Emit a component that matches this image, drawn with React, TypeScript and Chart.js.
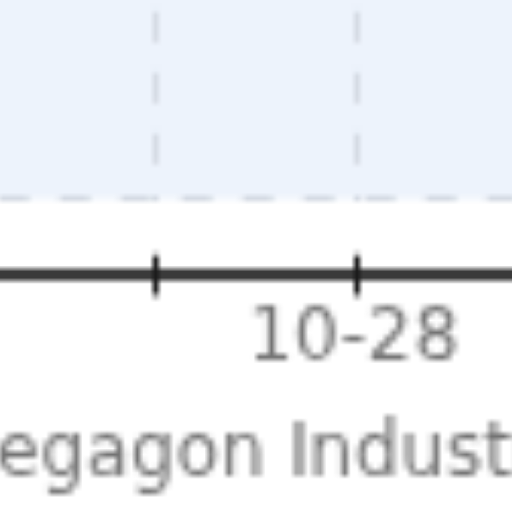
import React, { useEffect, useRef } from "react";
import { Chart, registerables } from "chart.js";

Chart.register(...registerables);

// ---- data ----
const DATES = ["10-23", "10-24", "10-25", "10-26", "10-27", "10-28", "10-29", "10-30", "10-31", "11-01"];
const SHIPMENTS = [62, 58, 71, 66, 74, 69, 80, 77, 85, 82];
const Y_MIN = 0;
const Y_MAX = 100;
const Y_STEP = 25;
const LABEL_EVERY = 3;
const LABEL_PHASE = 2;
const TITLE_LINES = ["Omegagon Industries", "made parts a minute (med.)"];

// ---- style / view ----
const FONT = "DejaVu Sans";
const PLOT_BG = "#EDF3FC";
const GRID = "#d5dbe4";
const TEXT = "#747474";
const AXIS_GAP = 12.4;
const ZOOM = 6.1;
const VIEW_X = 150;
const VIEW_Y = 150;
const CW = 360;
const CH = 254;

const offsetAxis = {
  id: "offsetAxis",
  beforeDraw(chart: any) {
    const { ctx, chartArea } = chart;
    ctx.save();
    ctx.fillStyle = PLOT_BG;
    ctx.fillRect(chartArea.left, chartArea.top, chartArea.right - chartArea.left, chartArea.bottom - chartArea.top);
    ctx.restore();
  },
  afterDraw(chart: any) {
    const { ctx, chartArea } = chart;
    const xs = chart.scales.x;
    const y = chartArea.bottom + AXIS_GAP;
    ctx.save();
    ctx.strokeStyle = "#3a3a3a";
    ctx.lineWidth = 2;
    ctx.beginPath();
    ctx.moveTo(chartArea.left, y);
    ctx.lineTo(chartArea.right, y);
    ctx.stroke();
    ctx.strokeStyle = "#1a1a1a";
    ctx.lineWidth = 1;
    xs.ticks.forEach((_: any, i: number) => {
      const px = Math.round(xs.getPixelForTick(i) - 0.5) + 0.5;
      ctx.beginPath();
      ctx.moveTo(px, y - 3.2);
      ctx.lineTo(px, y + 3.4);
      ctx.stroke();
    });
    ctx.restore();
  },
};

export default function App() {
  const ref = useRef<HTMLCanvasElement | null>(null);

  useEffect(() => {
    if (!ref.current) return;
    const chart = new Chart(ref.current, {
      type: "line",
      data: {
        labels: DATES,
        datasets: [
          {
            label: "Shipments",
            data: SHIPMENTS,
            borderColor: "#4a7fd4",
            backgroundColor: "#4a7fd4",
            borderWidth: 2,
            pointRadius: 0,
            tension: 0,
          },
        ],
      },
      options: {
        responsive: false,
        animation: false,
        devicePixelRatio: 1,
        events: [],
        layout: { padding: { top: 10.8, left: 4.7, right: 16.9, bottom: 1.5 } },
        plugins: { legend: { display: false }, tooltip: { enabled: false }, title: { display: false } },
        scales: {
          x: {
            type: "category",
            border: { display: false, dash: [5, 5], dashOffset: 1.3 },
            grid: {
              color: GRID,
              lineWidth: 1,
              drawTicks: true,
              tickLength: 15.9,
              tickColor: "rgba(0,0,0,0)",
              drawOnChartArea: true,
            },
            ticks: {
              autoSkip: false,
              maxRotation: 0,
              minRotation: 0,
              padding: 0,
              labelOffset: -0.8,
              color: TEXT,
              font: { family: FONT, size: 12 },
              callback: (_v: any, i: number) => (i % LABEL_EVERY === LABEL_PHASE ? DATES[i] : ""),
            },
            title: {
              display: true,
              text: TITLE_LINES,
              color: TEXT,
              font: { family: FONT, size: 11.8, lineHeight: 1.576 },
              padding: { top: 2.4, bottom: 0 },
            },
          },
          y: {
            min: Y_MIN,
            max: Y_MAX,
            border: { display: false, dash: [5, 5], dashOffset: 1.3 },
            grid: { color: GRID, lineWidth: 1, drawTicks: false },
            ticks: { stepSize: Y_STEP, color: TEXT, font: { family: FONT, size: 12 }, padding: 6 },
            afterFit: (s: any) => {
              s.width = 36;
            },
          },
        },
      },
      plugins: [offsetAxis],
    });
    return () => chart.destroy();
  }, []);

  return (
    <div style={{ position: "fixed", left: 0, top: 0, width: 512, height: 512, overflow: "hidden", background: "#ffffff" }}>
      <canvas
        ref={ref}
        width={CW}
        height={CH}
        style={{
          position: "absolute",
          left: 0,
          top: 0,
          width: CW,
          height: CH,
          display: "block",
          transformOrigin: "0 0",
          transform: `scale(${ZOOM}) translate(${-VIEW_X}px, ${-VIEW_Y}px)`,
        }}
      />
    </div>
  );
}
